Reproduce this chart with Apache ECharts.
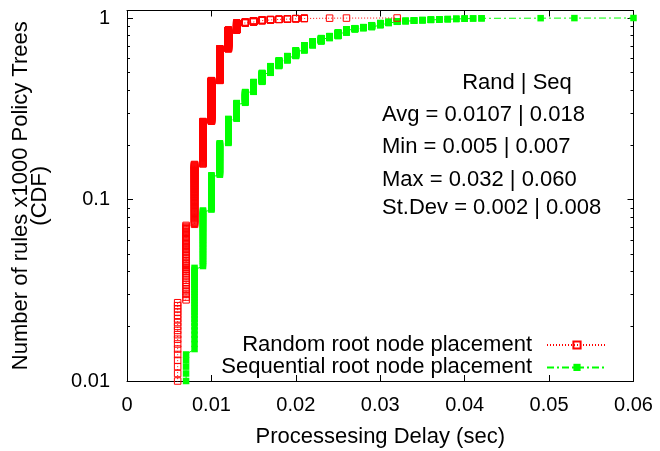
<!DOCTYPE html>
<html>
<head>
<meta charset="utf-8">
<script src="https://cdn.jsdelivr.net/npm/echarts@6/dist/echarts.min.js"></script>
<style>
html,body{margin:0;padding:0;background:#fff;}
#chart{width:660px;height:451px;}
</style>
</head>
<body>
<div id="chart"></div>
<script>
const FONT = '"Liberation Sans", Arial, Helvetica, sans-serif';

const seriesNames = ['Random root node placement', 'Sequential root node placement'];

// Random placement: distinct delays (sec) and the CDF reached at each delay
const randDelays = [0.005, 0.006, 0.007, 0.008, 0.009, 0.010, 0.011, 0.012, 0.013, 0.014,
                    0.015, 0.016, 0.017, 0.018, 0.019, 0.020, 0.021, 0.024, 0.026, 0.032];
const randCdf    = [0.006, 0.027, 0.072, 0.156, 0.269, 0.452, 0.676, 0.858, 0.938, 0.950,
                    0.966, 0.975, 0.981, 0.985, 0.989, 0.993, 0.997, 0.998, 0.999, 1.000];

// Sequential placement
const seqDelays = [0.007, 0.008, 0.009, 0.010, 0.011, 0.012, 0.013, 0.014, 0.015, 0.016,
                   0.017, 0.018, 0.019, 0.020, 0.021, 0.022, 0.023, 0.024, 0.025, 0.026,
                   0.027, 0.028, 0.029, 0.030, 0.031, 0.032, 0.033, 0.034, 0.035, 0.036,
                   0.037, 0.038, 0.039, 0.040, 0.041, 0.042, 0.049, 0.053, 0.060];
const seqCdf    = [0.014, 0.042, 0.087, 0.136, 0.204, 0.278, 0.340, 0.391, 0.444, 0.498,
                   0.543, 0.584, 0.617, 0.663, 0.707, 0.743, 0.775, 0.795, 0.832, 0.866,
                   0.879, 0.891, 0.913, 0.938, 0.952, 0.960, 0.965, 0.971, 0.975, 0.980,
                   0.984, 0.987, 0.990, 0.993, 0.995, 0.997, 0.998, 0.999, 1.000];

const sampleCount = 1000; // samples per CDF (one marker per sample)

const xTicks = [0, 0.01, 0.02, 0.03, 0.04, 0.05, 0.06];
const yMajorTicks = [0.01, 0.1, 1];
const yMinorTicks = [0.02, 0.03, 0.04, 0.05, 0.06, 0.07, 0.08, 0.09,
                     0.2, 0.3, 0.4, 0.5, 0.6, 0.7, 0.8, 0.9];

const statsHeader = 'Rand | Seq';
const statsLines = ['Avg = 0.0107 | 0.018', 'Min = 0.005 | 0.007',
                    'Max = 0.032 | 0.060', 'St.Dev = 0.002 | 0.008'];

const xName = 'Processesing Delay (sec)';
const yName = 'Number of rules x1000 Policy Trees\n(CDF)';

// empirical CDF: each sample k gets the point (delay, rank/N)
function cdfPoints(delays, cdf, n) {
  const pts = [];
  let prev = 0;
  for (let k = 0; k < delays.length; k++) {
    const hi = Math.round(cdf[k] * n);
    for (let i = prev + 1; i <= hi; i++) pts.push([delays[k], i / n]);
    prev = hi;
  }
  return pts;
}

const chart = echarts.init(document.getElementById('chart'), null, {renderer: 'canvas'});

const axisLineStyle = {show: true, lineStyle: {color: '#000', width: 1}};
const fmtX = v => String(+(+v).toFixed(3));
const fmtY = v => String(+(+v).toPrecision(6));

function yAx(position, major) {
  return {
    type: 'log', logBase: 10, min: 0.01, max: 1.1, position: position,
    axisLine: major ? axisLineStyle : {show: false},
    axisTick: {show: true, inside: true, length: major ? 6 : 3,
               customValues: major ? yMajorTicks : yMinorTicks,
               lineStyle: {color: '#000', width: 1}},
    axisLabel: (major && position === 'left') ?
      {show: true, customValues: yMajorTicks, formatter: fmtY, margin: 17,
       fontSize: 20, color: '#000', fontFamily: FONT} : {show: false},
    splitLine: {show: false}, minorTick: {show: false},
    name: (major && position === 'left') ? yName : '',
    nameLocation: 'middle', nameGap: 97, nameRotate: 90,
    nameTextStyle: {fontSize: 22, color: '#000', fontFamily: FONT, lineHeight: 19,
                    align: 'center', verticalAlign: 'middle'}
  };
}

function xAx(position) {
  return {
    type: 'value', min: xTicks[0], max: xTicks[xTicks.length - 1], interval: 0.01,
    position: position,
    axisLine: axisLineStyle,
    axisTick: {show: true, inside: true, length: 6, lineStyle: {color: '#000', width: 1}},
    axisLabel: position === 'bottom' ?
      {show: true, formatter: fmtX, margin: 14, fontSize: 20, color: '#000', fontFamily: FONT,
       showMinLabel: true, showMaxLabel: true} : {show: false},
    splitLine: {show: false},
    name: position === 'bottom' ? xName : '',
    nameLocation: 'middle', nameGap: 56,
    nameTextStyle: {fontSize: 22, color: '#000', fontFamily: FONT, verticalAlign: 'middle'}
  };
}

const graphics = [{
  type: 'text', x: 517, y: 83,
  style: {text: statsHeader, textAlign: 'center', textVerticalAlign: 'middle',
          font: '22px ' + FONT, fill: '#000'}
}];
const statsY = [115, 147, 180, 208];
statsLines.forEach((t, i) => graphics.push({
  type: 'text', x: 382, y: statsY[i],
  style: {text: t, textAlign: 'left', textVerticalAlign: 'middle', font: '22px ' + FONT, fill: '#000'}
}));

chart.setOption({
  animation: false,
  backgroundColor: '#fff',
  grid: {left: 127, right: 26.5, top: 10.5, bottom: 70, containLabel: false, outerBoundsMode: 'none'},
  xAxis: [xAx('bottom'), xAx('top')],
  yAxis: [yAx('left', true), yAx('left', false), yAx('right', true), yAx('right', false)],
  legend: {
    show: true, orient: 'vertical', align: 'right', right: 47, top: 329,
    itemWidth: 60, itemHeight: 9, itemGap: 0.4,
    textStyle: {fontSize: 22, color: '#000', fontFamily: FONT, lineHeight: 22, padding: [0, 10, 0, 0]},
    data: seriesNames
  },
  graphic: graphics,
  series: [
    {
      name: seriesNames[0], type: 'line', xAxisIndex: 0, yAxisIndex: 0,
      data: cdfPoints(randDelays, randCdf, sampleCount),
      symbol: 'rect', symbolSize: 6.5, showAllSymbol: true,
      itemStyle: {color: 'rgba(255,255,255,0)', borderColor: '#ff0000', borderWidth: 1},
      lineStyle: {color: '#ff0000', width: 1, type: [1, 2]},
      emphasis: {disabled: true}, z: 3
    },
    {
      name: seriesNames[1], type: 'line', xAxisIndex: 0, yAxisIndex: 0,
      data: cdfPoints(seqDelays, seqCdf, sampleCount),
      symbol: 'rect', symbolSize: 6.5, showAllSymbol: true,
      itemStyle: {color: '#00ff00'},
      lineStyle: {color: '#00ff00', width: 1, type: [7, 3, 2, 3]},
      emphasis: {disabled: true}, z: 2
    }
  ]
});
</script>
</body>
</html>
